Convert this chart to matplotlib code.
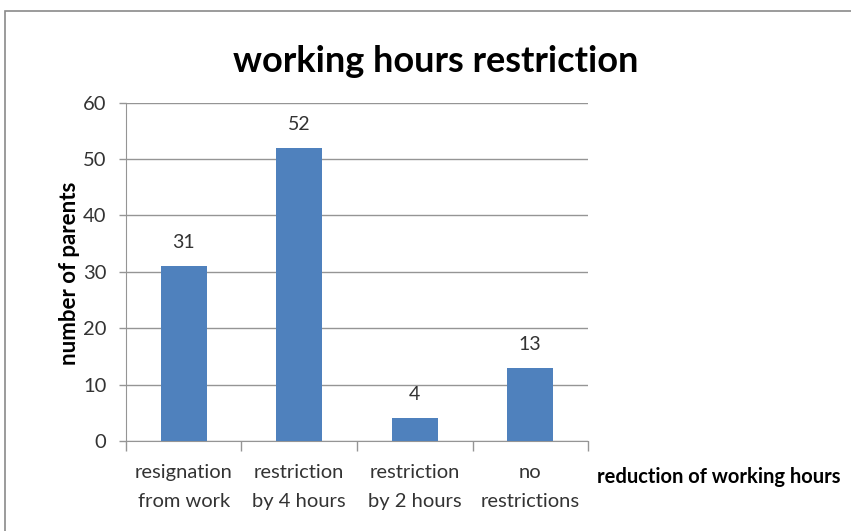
import matplotlib.pyplot as plt
from matplotlib.patches import Rectangle

plt.rcParams['font.family'] = ['Lato', 'DejaVu Sans']

categories = ['resignation\nfrom work', 'restriction\nby 4 hours',
              'restriction\nby 2 hours', 'no\nrestrictions']
parents = [31, 52, 4, 13]
y_ticks = [0, 10, 20, 30, 40, 50, 60]

bar_color = '#4F81BD'
grid_color = '#959595'
text_color = '#333333'

fig = plt.figure(figsize=(8.51, 5.31), dpi=100)
ax = fig.add_axes([0.148, 0.1695, 0.543, 0.637])

# frame around the chart (cut off at right/bottom like the original)
fig.patches.append(Rectangle((5 / 851, -0.1), 1.2, 1 - 11 / 531 + 0.1,
                             transform=fig.transFigure, fill=False,
                             edgecolor='#8a8a8a', linewidth=1.2))

x = range(len(categories))
bars = ax.bar(x, parents, width=0.4, color=bar_color, zorder=3)

for xi, v in zip(x, parents):
    ax.annotate(str(v), (xi, v), xytext=(0, 17), textcoords='offset points',
                ha='center', va='center', fontsize=14, color=text_color)

ax.set_xlim(-0.5, len(categories) - 0.5)
ax.set_ylim(0, 60)
ax.set_yticks(y_ticks)
ax.yaxis.grid(True, color=grid_color, linewidth=1, zorder=0)

# ticks between categories
ax.set_xticks([i - 0.5 for i in range(len(categories) + 1)])
ax.set_xticklabels([])
ax.tick_params(axis='x', length=7, color=grid_color, width=1)
ax.tick_params(axis='y', length=5, color=grid_color, width=1,
               labelsize=14.5, pad=9, labelcolor=text_color)
for xi, lab in zip(x, categories):
    ax.text(xi, -4.1, lab, ha='center', va='top', fontsize=14.5,
            color=text_color, linespacing=1.85)

for side in ['top', 'right']:
    ax.spines[side].set_visible(False)
ax.spines['left'].set_color(grid_color)
ax.spines['bottom'].set_color(grid_color)

fig.text(0.512, 0.885, 'working hours restriction', ha='center', va='center',
         fontsize=26, fontweight='bold')
fig.text(0.082, 0.486, 'number of parents', ha='center', va='center',
         rotation=90, fontsize=16, fontweight='bold')
fig.text(0.701, 0.101, 'reduction of working hours', ha='left', va='center',
         fontsize=14.5, fontweight='bold')

fig.savefig('out.png', dpi=100)
